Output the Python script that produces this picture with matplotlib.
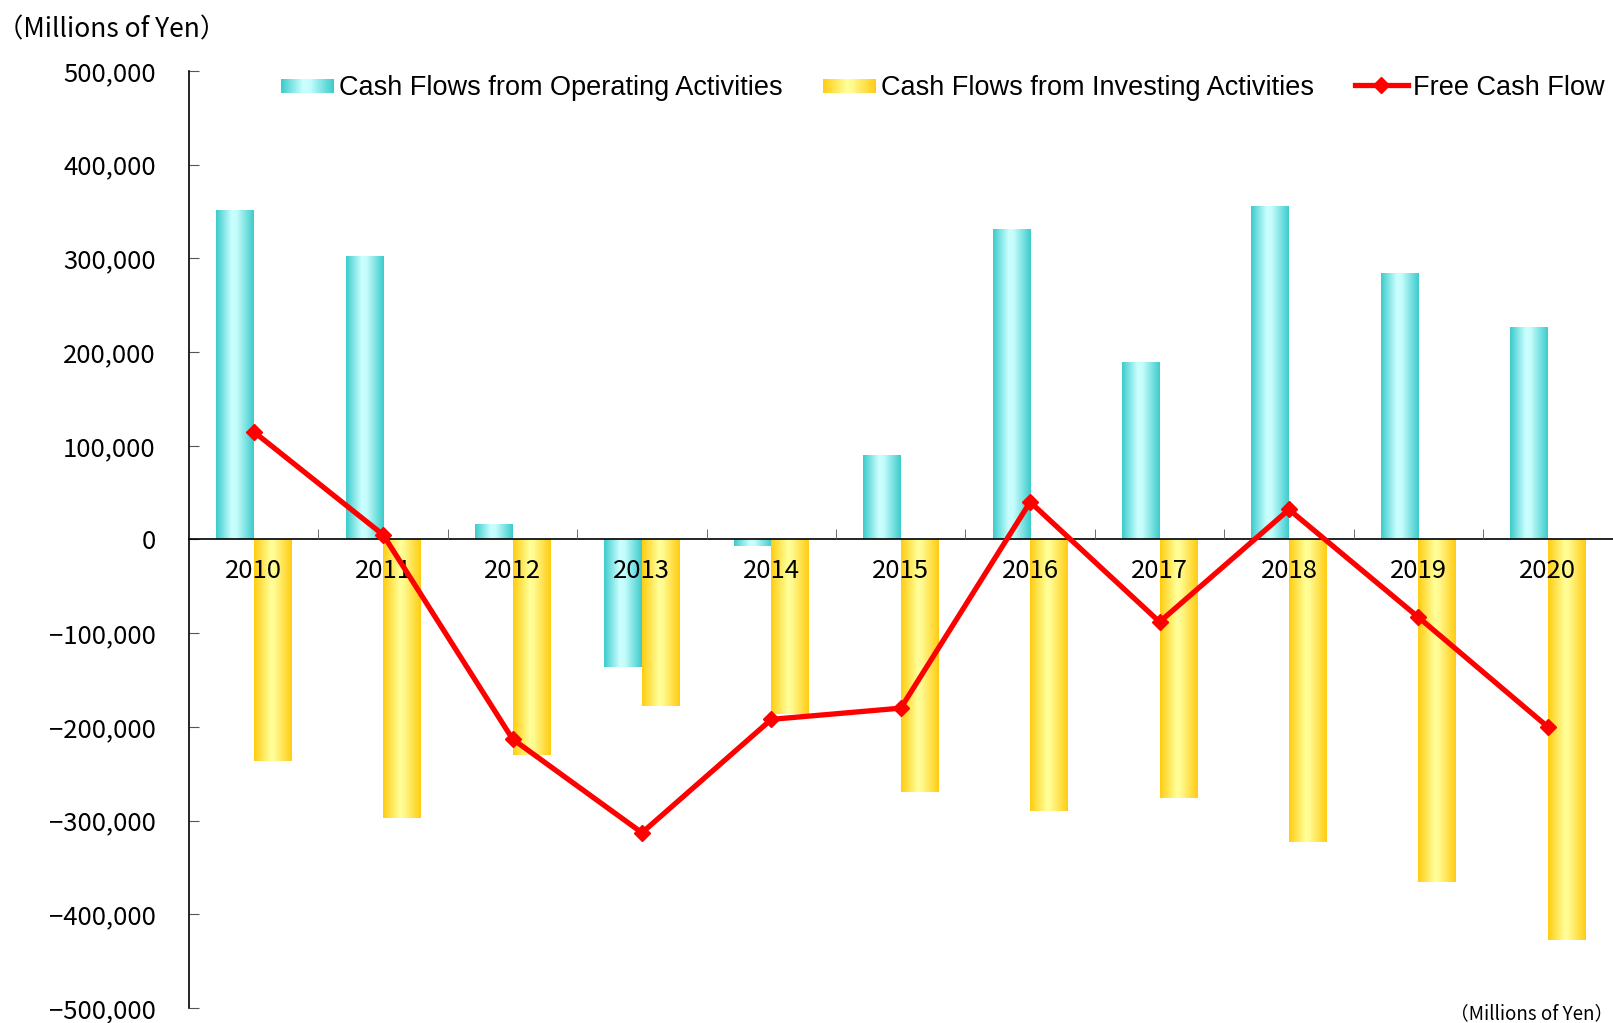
import numpy as np
import matplotlib
matplotlib.use('Agg')
import matplotlib.pyplot as plt
from matplotlib.colors import LinearSegmentedColormap
from matplotlib.legend_handler import HandlerBase
from matplotlib.image import BboxImage
from matplotlib.transforms import Bbox, TransformedBbox
from matplotlib.lines import Line2D
from matplotlib.patches import Rectangle
from matplotlib.ticker import FuncFormatter, MultipleLocator

plt.rcParams['font.family'] = ['Noto Sans CJK JP', 'DejaVu Sans']

# data (millions of yen)
years = ['2010', '2011', '2012', '2013', '2014', '2015', '2016', '2017', '2018', '2019', '2020']
operating = [351000, 301000, 16000, -136000, -7000, 89000, 330000, 188000, 355000, 283000, 226000]
investing = [-236000, -297000, -230000, -178000, -186000, -269000, -290000, -276000, -323000, -366000, -427000]
free_cf = [115000, 5000, -213000, -313000, -192000, -180000, 40000, -88000, 32000, -83000, -200000]

cyan_cmap = LinearSegmentedColormap.from_list('cy', [(0, '#3CCBCB'), (0.42, '#CCFFFF'), (0.55, '#C4FCFC'), (1, '#3CCBCB')])
yel_cmap = LinearSegmentedColormap.from_list('ye', [(0, '#FFCC11'), (0.45, '#FFFF99'), (0.55, '#FFFA90'), (1, '#FFCC11')])
grad = np.linspace(0, 1, 256).reshape(1, -1)


class HandlerGrad(HandlerBase):
    def __init__(self, cmap):
        super().__init__()
        self.cmap = cmap

    def create_artists(self, legend, orig_handle, xdescent, ydescent, width, height, fontsize, trans):
        bb = Bbox.from_bounds(-xdescent, -ydescent + height * 0.12, width, height * 0.7)
        img = BboxImage(TransformedBbox(bb, trans), cmap=self.cmap, interpolation='bilinear')
        img.set_data(grad)
        return [img]


fig = plt.figure(figsize=(16.13, 10.23), dpi=100)
ax = fig.add_axes([0.1172, 0.0147, 0.8825, 0.9159])

x = np.arange(len(years))
w = 0.29
b1 = ax.bar(x - w / 2, operating, w, color='none', edgecolor='none')
b2 = ax.bar(x + w / 2, investing, w, color='none', edgecolor='none')
for bars, cm in ((b1, cyan_cmap), (b2, yel_cmap)):
    for p in bars:
        x0, y0 = p.get_x(), p.get_y()
        ax.imshow(grad, cmap=cm, aspect='auto', interpolation='bilinear',
                  extent=[x0, x0 + p.get_width(), y0, y0 + p.get_height()], zorder=2)

ax.plot(x, free_cf, color='#FF0000', lw=3.8, marker='D', ms=8, zorder=4)

ax.set_xlim(-0.5, len(years) - 0.5)
ax.set_ylim(-500000, 500000)

ax.spines['top'].set_visible(False)
ax.spines['right'].set_visible(False)
ax.spines['bottom'].set_position(('data', 0))
ax.spines['bottom'].set_zorder(3)
ax.spines['left'].set_linewidth(1.2)
ax.spines['bottom'].set_linewidth(1.2)
ax.xaxis.set_zorder(3)

ax.yaxis.set_major_locator(MultipleLocator(100000))
ax.yaxis.set_major_formatter(FuncFormatter(lambda v, p: f'{v:,.0f}'.replace('-', '\u2212')))
ax.tick_params(axis='y', direction='in', length=7, color='#555555', labelsize=18.5, pad=24)

ax.set_xticks(x)
ax.set_xticklabels(years)
ax.set_xticks(np.arange(0.5, len(years) - 1, 1), minor=True)
ax.tick_params(axis='x', which='major', length=0, labelsize=18.5, pad=13)
ax.tick_params(axis='x', which='minor', direction='in', length=7, color='#555555')

h1 = Rectangle((0, 0), 1, 1)
h2 = Rectangle((0, 0), 1, 1)
h3 = Line2D([], [], color='#FF0000', lw=3.8, marker='D', ms=8)
leg = ax.legend([h1, h2, h3],
                ['Cash Flows from Operating Activities', 'Cash Flows from Investing Activities', 'Free Cash Flow'],
                handler_map={h1: HandlerGrad(cyan_cmap), h2: HandlerGrad(yel_cmap)},
                ncol=3, frameon=False, loc='upper right', bbox_to_anchor=(1.0095, 1.019),
                prop={'family': ['Liberation Sans', 'DejaVu Sans'], 'size': 19.5},
                handlelength=1.95, handletextpad=0.19, columnspacing=1.5, borderpad=0.3)

fig.text(-0.002, 0.971, '（Millions of Yen）', fontsize=19, va='center', ha='left')
fig.text(1.0, 0.009, '（Millions of Yen）', fontsize=13.5, va='center', ha='right',
         family=['Liberation Sans Narrow', 'Noto Sans CJK JP', 'DejaVu Sans'])

fig.savefig('out.png', dpi=100)
